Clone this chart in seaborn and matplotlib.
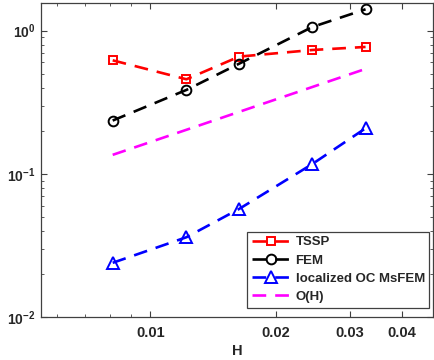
import numpy as np
import pandas as pd
import matplotlib
matplotlib.use("Agg")
import matplotlib.pyplot as plt
import matplotlib.ticker as mticker
import seaborn as sns

# Mesh sizes H and error values for each method
H = [0.00813, 0.0122, 0.0163, 0.0244, 0.0327]
tssp_err = [0.621, 0.458, 0.659, 0.733, 0.770]
fem_err = [0.236, 0.386, 0.588, 1.061, 1.41]
msfem_err = [0.0240, 0.0362, 0.0570, 0.1174, 0.2084]
# reference slope line O(H)
oh_H = [0.00813, 0.0327]
oh_vals = [0.136, 0.541]

x_ticks = [0.01, 0.02, 0.03, 0.04]
x_tick_labels = ["0.01", "0.02", "0.03", "0.04"]
y_ticks = [0.01, 0.1, 1.0]
y_tick_labels = [r"$\mathbf{10^{-2}}$", r"$\mathbf{10^{-1}}$", r"$\mathbf{10^{0}}$"]

sns.set_style("ticks")
plt.rcParams["font.family"] = ["Liberation Sans", "DejaVu Sans"]
plt.rcParams["font.weight"] = "bold"
plt.rcParams["mathtext.fontset"] = "custom"
plt.rcParams["mathtext.rm"] = "Liberation Sans:bold"
plt.rcParams["mathtext.bf"] = "Liberation Sans:bold"
plt.rcParams["mathtext.it"] = "Liberation Sans:bold"

fig = plt.figure(figsize=(4.35, 3.6), dpi=100)
ax = fig.add_axes([0.0943, 0.1186, 0.9011, 0.8731])

dash = (0, (5.2, 3.4))
lw = 1.9
series = [
    ("TSSP", H, tssp_err, "red", "s", 6),
    ("FEM", H, fem_err, "black", "o", 7),
    ("localized OC MsFEM", H, msfem_err, "blue", "^", 8),
]
for label, xs, ys, col, mk, ms in series:
    df = pd.DataFrame({"H": xs, "err": ys})
    sns.lineplot(data=df, x="H", y="err", ax=ax, color=col, label=label,
                 marker=mk, markersize=ms, markerfacecolor="none",
                 markeredgecolor=col, markeredgewidth=1.4,
                 linewidth=lw, linestyle=dash)

df_oh = pd.DataFrame({"H": oh_H, "err": oh_vals})
sns.lineplot(data=df_oh, x="H", y="err", ax=ax, color="magenta", label="O(H)",
             linewidth=lw, linestyle=dash)

ax.set_xscale("log")
ax.set_yscale("log")
ax.set_xlim(0.00548, 0.0474)
ax.set_ylim(0.01, 1.56)

ax.xaxis.set_major_locator(mticker.FixedLocator(x_ticks))
ax.xaxis.set_major_formatter(mticker.FixedFormatter(x_tick_labels))
ax.xaxis.set_minor_locator(mticker.FixedLocator([0.006, 0.007, 0.008, 0.009]))
ax.xaxis.set_minor_formatter(mticker.NullFormatter())
ax.yaxis.set_major_locator(mticker.FixedLocator(y_ticks))
ax.yaxis.set_major_formatter(mticker.FixedFormatter(y_tick_labels))
ax.yaxis.set_minor_locator(mticker.LogLocator(base=10, subs=np.arange(2, 10)))
ax.yaxis.set_minor_formatter(mticker.NullFormatter())

spine_col = "#404040"
for s in ax.spines.values():
    s.set_visible(True)
    s.set_color(spine_col)
    s.set_linewidth(0.9)
ax.tick_params(which="both", direction="in", top=True, right=True,
               color=spine_col, labelcolor="#262626")
ax.tick_params(axis="x", which="major", labelsize=10.5, pad=6)
ax.tick_params(axis="y", which="major", labelsize=10, pad=4)
ax.tick_params(which="major", length=4, width=0.8)
ax.tick_params(which="minor", length=2.5, width=0.6)
for t in ax.get_xticklabels():
    t.set_fontweight("bold")

ax.set_xlabel("H", fontsize=10.5, fontweight="bold", color="#262626", labelpad=3)
ax.set_ylabel("")

leg = ax.legend(loc="lower right", bbox_to_anchor=(0.991, 0.031),
                borderaxespad=0, frameon=True, fancybox=False,
                edgecolor="#404040", framealpha=1,
                handlelength=2.8, handletextpad=0.5, labelspacing=0.45,
                borderpad=0.35, prop={"weight": "bold", "size": 9.5})
leg.get_frame().set_linewidth(0.9)

fig.savefig("out.png", dpi=100)
